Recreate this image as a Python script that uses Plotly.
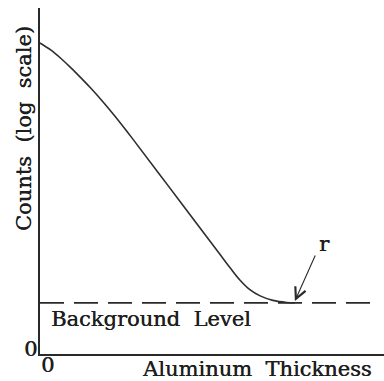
import plotly.graph_objects as go

# Schematic absorption curve: counts (log scale) against aluminum thickness
thickness = [0.0, 0.32, 0.61, 0.90, 1.19, 1.48, 1.89, 2.18, 2.70, 3.69, 4.85,
             5.23, 5.52, 5.81, 6.10, 6.40, 6.77, 7.17, 7.41]
log_counts = [8.99, 8.78, 8.54, 8.27, 7.98, 7.68, 7.22, 6.87, 6.21, 4.91, 3.38,
              2.88, 2.50, 2.14, 1.86, 1.68, 1.55, 1.49, 1.48]

background_level = 1.48
background_extent = [0.0, 9.71]

range_point = (7.41, 1.53)      # where the curve meets background ("r")
range_arrow_tail = (8.02, 2.89)
range_label_pos = (8.26, 3.18)

x_tick_labels = ["0"]
y_tick_labels = ["0"]

FONT = "DejaVu Serif"
INK = "#1e1e1e"
SIZE = 21


def label_font(size=SIZE):
    return dict(family=FONT, size=size, color=INK,
                shadow="0.4px 0.3px 0px #1e1e1e")


fig = go.Figure()

fig.add_trace(go.Scatter(
    x=thickness, y=log_counts, mode="lines",
    line=dict(color="#2e2e2e", width=1.6, shape="spline", smoothing=1.0),
    hoverinfo="skip", showlegend=False,
))

fig.add_trace(go.Scatter(
    x=background_extent, y=[background_level, background_level], mode="lines",
    line=dict(color="#2a2a2a", width=1.8, dash="24px,10px"),
    hoverinfo="skip", showlegend=False,
))

annotations = [
    dict(x=0.26, y=1.01, xref="x", yref="y", text="Background  Level",
         showarrow=False, xanchor="left", yanchor="middle", font=label_font()),
    dict(x=2.90, y=0, xref="x", yref="y", yshift=-15, text="Aluminum  Thickness",
         showarrow=False, xanchor="left", yanchor="middle", font=label_font()),
    dict(x=0, y=6.5, xref="x", yref="y", xshift=-16, text="Counts  (log  scale)",
         textangle=-90, showarrow=False, xanchor="center", yanchor="middle",
         font=label_font()),
    dict(x=0, y=0, xref="x", yref="y", xshift=-10, yshift=5, text=y_tick_labels[0],
         showarrow=False, xanchor="center", yanchor="middle", font=label_font()),
    dict(x=0, y=0, xref="x", yref="y", xshift=7, yshift=-11, text=x_tick_labels[0],
         showarrow=False, xanchor="center", yanchor="middle", font=label_font()),
    dict(x=range_point[0], y=range_point[1], xref="x", yref="y",
         ax=range_arrow_tail[0], ay=range_arrow_tail[1], axref="x", ayref="y",
         text="", showarrow=True, arrowhead=5, arrowsize=2.0, arrowwidth=1.1,
         arrowcolor="#2a2a2a"),
    dict(x=range_label_pos[0], y=range_label_pos[1], xref="x", yref="y", text="r",
         showarrow=False, xanchor="center", yanchor="middle", font=label_font()),
]

fig.update_layout(
    width=384, height=381,
    margin=dict(l=40, r=0, t=8, b=27),
    paper_bgcolor="white", plot_bgcolor="white",
    annotations=annotations,
    xaxis=dict(range=[0, 10], showgrid=False, zeroline=False, showticklabels=False,
               ticks="", showline=True, linecolor="#2a2a2a", linewidth=2,
               fixedrange=True),
    yaxis=dict(range=[0, 10], showgrid=False, zeroline=False, showticklabels=False,
               ticks="", showline=True, linecolor="#2a2a2a", linewidth=1.6,
               fixedrange=True),
)

fig.write_html("out.html")
